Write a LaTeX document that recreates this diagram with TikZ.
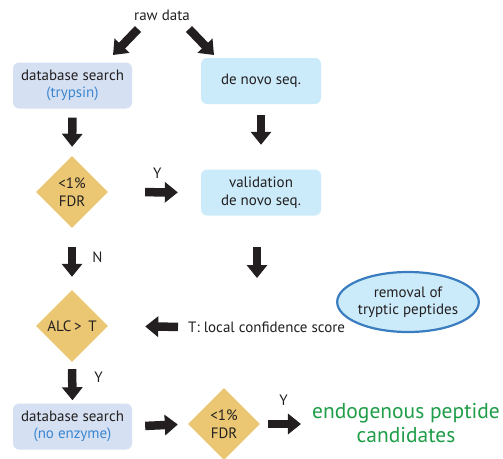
\documentclass[tikz,border=0pt]{standalone}
\usepackage{fontspec}
\setmainfont{PT Sans}
\usetikzlibrary{shapes.geometric,arrows.meta}
\definecolor{arrowc}{HTML}{231F20}
\definecolor{dbfill}{HTML}{D5E1F2}
\definecolor{dnfill}{HTML}{CCEBFA}
\definecolor{dmfill}{HTML}{EBC773}
\definecolor{greenc}{HTML}{1F9D48}
\definecolor{bluec}{HTML}{3B86CF}
\definecolor{ellc}{HTML}{3A7CC0}
\definecolor{textc}{HTML}{231F20}
\tikzset{
  txt/.style={font=\fontsize{15}{17.5}\selectfont, text=textc, align=center},
  dbbox/.style={txt, fill=dbfill, rounded corners=6pt, minimum width=119pt, minimum height=46pt, inner sep=0pt},
  dnbox/.style={txt, fill=dnfill, rounded corners=6pt, minimum width=120pt, minimum height=46pt, inner sep=0pt},
  decide/.style={txt, diamond, aspect=1, fill=dmfill, minimum width=72pt, minimum height=72pt, inner sep=0pt},
  bigarrow/.style={draw=arrowc, line width=8.5pt, -{Triangle[length=13pt,width=20pt]}},
  lbl/.style={txt, inner sep=0pt}
}
\begin{document}
\begin{tikzpicture}[x=1pt,y=-1pt]
\useasboundingbox (0,0) rectangle (503,458);
\node[lbl] (raw) at (162,15) {raw data};
\node[dbbox] (db1) at (72.5,85.5) {database search\\\textcolor{bluec}{(trypsin)}};
\node[dnbox] (dn) at (261,81) {de novo seq.};
\node[decide] (fdr1) at (72,192) {<1\%\\FDR};
\node[dnbox] (val) at (261,192.5) {validation\\de novo seq.};
\node[decide] (alc) at (72,326) {ALC\,>\;\,T};
\node[dbbox] (db2) at (72.5,426.5) {database search\\\textcolor{bluec}{(no enzyme)}};
\node[decide] (fdr2) at (224,424) {<1\%\\FDR};
\node[lbl, anchor=west] (tlab) at (188,327) {T: local confidence score};
\node[txt, ellipse, draw=ellc, line width=2.2pt, fill=dnfill, minimum width=139pt, minimum height=60pt, inner sep=0pt] (rem) at (408,302) {removal of\\tryptic peptides};
\node[txt, text=greenc, font=\fontsize{21.5}{24}\selectfont, inner sep=0pt] (endo) at (406,423) {endogenous peptide\\candidates};
% diagonal arrows from raw data
\coordinate (r1s) at (138,29);
\coordinate (r1e) at (113,55);
\coordinate (r2s) at (189,29);
\coordinate (r2e) at (214,55);
\draw[bigarrow] (r1s) -- (r1e);
\draw[bigarrow] (r2s) -- (r2e);
% vertical arrows
\draw[bigarrow, shorten <=9pt, shorten >=9pt] (db1.south) -- (fdr1.north);
\draw[bigarrow, shorten <=11pt, shorten >=24.5pt] (dn.south) -- (val.north);
\draw[bigarrow, shorten <=19pt, shorten >=13pt] (fdr1.south) -- node[lbl, right=16pt, pos=0.47] {N} (alc.north);
\draw[bigarrow, shorten <=7pt, shorten >=3pt] (alc.south) -- node[lbl, right=18pt, pos=0.37] {Y} (db2.north);
\coordinate (valdn) at (257,278);
\draw[bigarrow, shorten <=31.5pt] (val.south -| valdn) -- (valdn);
% horizontal arrows
\draw[bigarrow, shorten <=37pt, shorten >=23pt] (fdr1.east) -- node[lbl, above=10pt, pos=0.53] {Y} (val.west);
\draw[bigarrow, shorten <=10pt, shorten >=37pt] (tlab.west) -- (alc.east);
\draw[bigarrow, shorten <=13pt, shorten >=10pt] (db2.east) -- (fdr2.west);
\draw[bigarrow, shorten <=8pt, shorten >=11pt] (fdr2.east) -- node[lbl, above=14pt, pos=0.45] {Y} (endo.west |- fdr2.east);
\end{tikzpicture}
\end{document}
